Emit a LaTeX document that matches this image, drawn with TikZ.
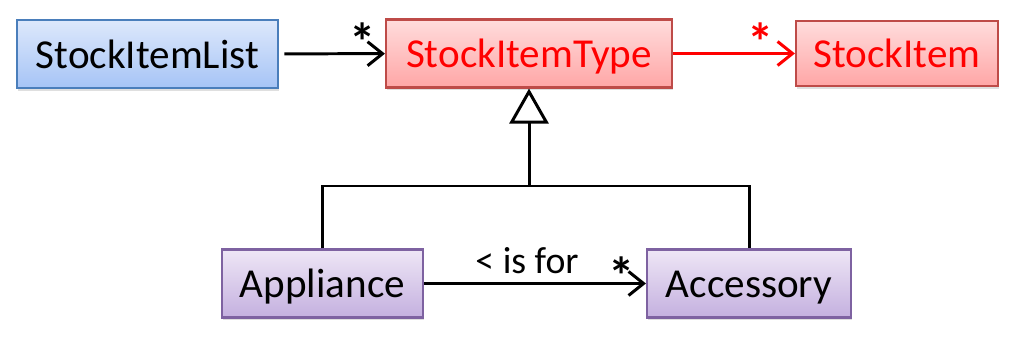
\documentclass[tikz,border=0pt]{standalone}
\usepackage{fontspec}
\setmainfont{Carlito}
\usetikzlibrary{arrows.meta,shadows}
\definecolor{listtop}{HTML}{DDE8FB}
\definecolor{listbot}{HTML}{A6C4F6}
\definecolor{listline}{HTML}{4A7EBB}
\definecolor{typetop}{HTML}{FFDCDC}
\definecolor{typebot}{HTML}{FFA6A6}
\definecolor{typeline}{HTML}{BE4B48}
\definecolor{subtop}{HTML}{EEE6F6}
\definecolor{subbot}{HTML}{C4B0DF}
\definecolor{subline}{HTML}{7E62A1}
\begin{document}
\begin{tikzpicture}[>={Straight Barb[length=3mm,width=4.8mm]},
  box/.style={draw,line width=1.2pt,minimum height=13.6mm,inner sep=0pt,
  font=\fontsize{23.4}{28}\selectfont,text height=0.68cm,text depth=0.1cm,
  drop shadow={opacity=0.25,shadow xshift=0.6pt,shadow yshift=-1.6pt}},
  listbox/.style={box,draw=listline,top color=listtop,bottom color=listbot},
  typebox/.style={box,draw=typeline,top color=typetop,bottom color=typebot,text=red},
  subbox/.style={box,draw=subline,top color=subtop,bottom color=subbot},
  edge/.style={->,line width=1.7pt},
  mult/.style={font=\fontsize{30}{30}\selectfont\bfseries,inner sep=0pt,anchor=base}]
\useasboundingbox (0,0) rectangle (20.3,-6.88);
\node[listbox,minimum width=5.22cm] (list) at (2.95,-1.08) {StockItemList};
\node[typebox,minimum width=5.72cm] (type) at (10.58,-1.07) {StockItemType};
\node[typebox,minimum width=4.04cm,minimum height=13mm] (item) at (17.94,-1.07) {StockItem};
\node[subbox,minimum width=4.02cm] (appliance) at (6.45,-5.67) {Appliance};
\node[subbox,minimum width=4.08cm] (accessory) at (14.98,-5.67) {Accessory};
\coordinate (join) at (10.58,-3.72);
\draw[edge,shorten <=3pt] (list)--node[mult,pos=0.79,yshift=-0.14cm]{*}(type);
\draw[edge,red] (type)--node[mult,pos=0.72,yshift=-0.14cm]{*}(item);
\draw[edge] (appliance)--node[anchor=base,font=\fontsize{21.5}{26}\selectfont,
  yshift=0.2cm,xshift=-0.16cm]{< is for}
  node[mult,pos=0.89,yshift=-0.22cm]{*}(accessory);
\draw[line width=1.7pt] (appliance.north) |- (join) -| (accessory.north);
\draw[line width=1.7pt,-{Triangle[open,length=7mm,width=7.8mm]}] (join)--(type.south);
\end{tikzpicture}
\end{document}
